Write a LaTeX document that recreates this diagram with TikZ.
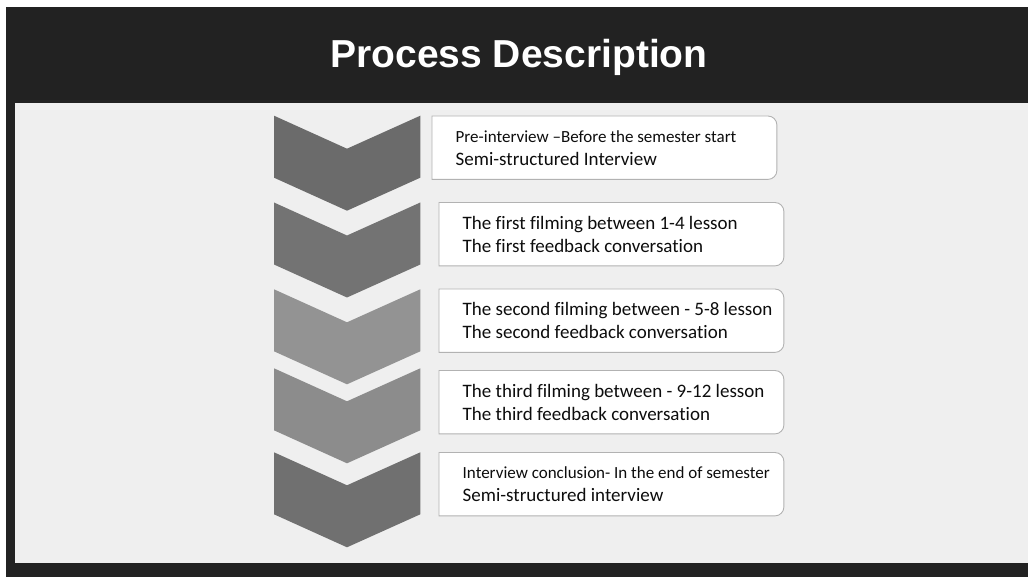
\documentclass[tikz,border=0pt]{standalone}
\usepackage{fontspec}
\setmainfont{Carlito}[Ligatures={NoCommon}]
\newfontfamily\titlefont{Liberation Sans}
\usepackage{tikz}
\usetikzlibrary{positioning,calc}
\definecolor{barbg}{HTML}{222222}
\definecolor{panelbg}{HTML}{EFEFEF}
\definecolor{chevA}{HTML}{6B6B6B}
\definecolor{chevB}{HTML}{737373}
\definecolor{chevC}{HTML}{939393}
\definecolor{chevD}{HTML}{8C8C8C}
\definecolor{chevE}{HTML}{707070}

\begin{document}
\begin{tikzpicture}[x=1pt, y=-1pt,
    stepbox/.style={minimum width=344.5pt, minimum height=63pt, inner sep=0pt, anchor=north west},
    steptext/.style={anchor=west, align=left, inner sep=0pt, text=black!95, font=\fontsize{19}{23}\selectfont},
    boxline/.style={draw=black!30, fill=white, line width=0.9pt}
]
\useasboundingbox (0,0) rectangle (1028,577);
\fill[white] (0,0) rectangle (1028,577);
\fill[barbg] (6,7) rectangle (1028,577);
\fill[panelbg] (15,103) rectangle (1028,563);
\node[text=white, font=\titlefont\bfseries\fontsize{39}{45}\selectfont, anchor=base] (title) at (519,68) {Process Description};

\foreach \n/\cy/\bx/\by/\col in {1/115.7/432/116/chevA, 2/202.5/439/202.5/chevB, 3/289.3/439/289/chevC, 4/368.3/439/370.5/chevD, 5/452.3/439/452.5/chevE}{
  \fill[\col] (274,\cy) -- (347,\cy+33) -- (420.3,\cy) -- (420.3,\cy+62) -- (347,\cy+95) -- (274,\cy+62) -- cycle;
  \node[stepbox] (b\n) at (\bx,\by) {};
  \draw[boxline] (b\n.south west) -- (b\n.north west) -- ([xshift=-9pt]b\n.north east) arc[start angle=90, end angle=0, radius=9pt] -- ([yshift=9pt]b\n.south east) arc[start angle=0, end angle=-90, radius=9pt] -- cycle;
}

\node[steptext, right=23.5pt of b1.west] (t1) {{\fontsize{17}{23}\selectfont Pre-interview –Before the semester start}\\Semi-structured Interview};
\node[steptext, right=23.5pt of b2.west] (t2) {The first filming between 1-4 lesson\\The first feedback conversation};
\node[steptext, right=23.5pt of b3.west] (t3) {The second filming between - 5-8 lesson\\The second feedback conversation};
\node[steptext, right=23.5pt of b4.west] (t4) {The third filming between - 9-12 lesson\\The third feedback conversation};
\node[steptext, right=23.5pt of b5.west] (t5) {{\fontsize{17}{23}\selectfont Interview conclusion- In the end of semester}\\Semi-structured interview};
\end{tikzpicture}
\end{document}
